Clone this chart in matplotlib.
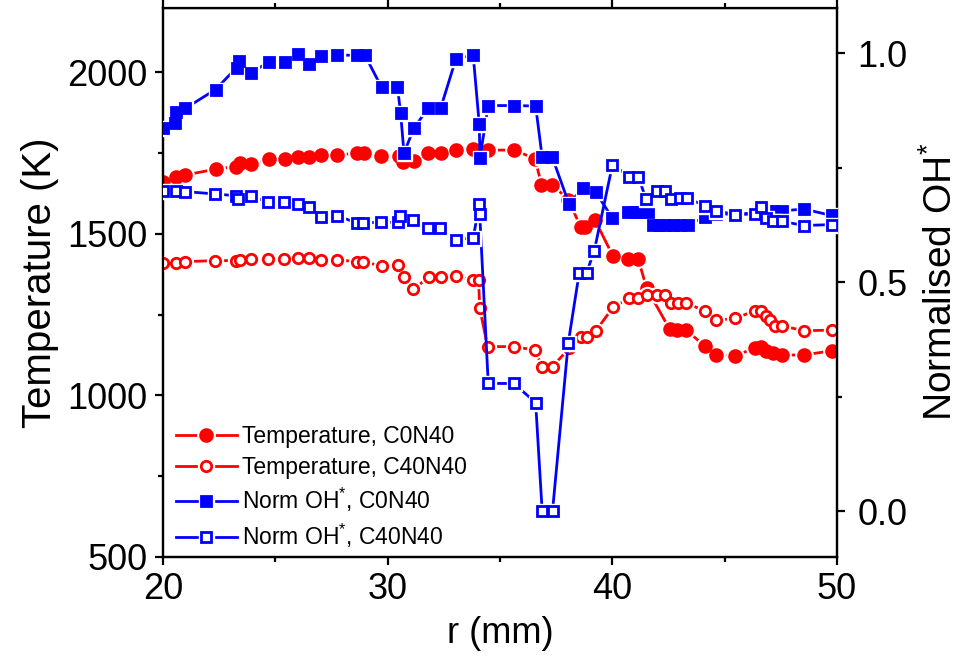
"""Perfiles radiales de temperatura y OH* normalizado para C0N40 y C40N40."""

import matplotlib

matplotlib.use("Agg")
from matplotlib import pyplot as plt  # noqa: E402
from matplotlib.ticker import MultipleLocator  # noqa: E402

plt.rcParams["font.family"] = ["Liberation Sans", "DejaVu Sans"]
plt.rcParams["mathtext.fontset"] = "custom"
plt.rcParams["mathtext.rm"] = "Liberation Sans"
plt.rcParams["mathtext.it"] = "Liberation Sans:italic"

RED = "#FF0000"
BLUE = "#0000FF"

# Temperatura, C0N40
R_T_C0 = [20.0, 20.56, 21.0, 22.34, 23.25, 23.43, 23.92, 24.72, 25.43, 25.99, 26.5,
          27.02, 27.76, 28.62, 28.95, 29.7, 30.5, 30.69, 31.17, 31.81, 32.36, 33.04,
          33.82, 34.48, 35.62, 36.56, 36.85, 37.33, 38.05, 38.6, 38.8, 39.22, 40.04,
          40.71, 41.16, 41.53, 42.56, 42.86, 43.27, 44.12, 44.64, 45.46, 46.35, 46.64,
          46.86, 47.16, 47.57, 48.53, 49.76]
T_C0 = [1661, 1675, 1682, 1700, 1708, 1718, 1715, 1731, 1730, 1737, 1739,
        1744, 1744, 1749, 1749, 1742, 1742, 1723, 1726, 1749, 1749, 1759,
        1763, 1759, 1759, 1733, 1652, 1652, 1605, 1520, 1520, 1544, 1430,
        1423, 1421, 1332, 1204, 1203, 1203, 1153, 1125, 1123, 1146, 1151,
        1138, 1130, 1125, 1125, 1138]

# Temperatura, C40N40
R_T_C40 = [20.0, 20.56, 21.0, 22.31, 23.25, 23.43, 23.92, 24.69, 25.4, 25.99, 26.51,
           27.02, 27.76, 28.62, 28.92, 29.73, 30.48, 30.73, 31.15, 31.85, 32.37, 33.04,
           33.78, 34.05, 34.1, 34.45, 35.62, 36.56, 36.88, 37.34, 38.08, 38.63, 38.86,
           39.27, 40.04, 40.76, 41.16, 41.53, 41.97, 42.34, 42.61, 42.93, 43.3, 44.12,
           44.64, 45.46, 46.35, 46.64, 46.86, 47.01, 47.24, 47.57, 48.53, 49.76]
T_C40 = [1409, 1409, 1414, 1417, 1417, 1419, 1421, 1422, 1422, 1424, 1424,
         1419, 1419, 1414, 1414, 1400, 1403, 1365, 1328, 1367, 1367, 1369,
         1357, 1357, 1270, 1151, 1151, 1140, 1089, 1089, 1146, 1182, 1182,
         1200, 1273, 1300, 1300, 1311, 1311, 1311, 1285, 1286, 1286, 1261,
         1233, 1238, 1262, 1262, 1246, 1233, 1215, 1215, 1200, 1202]

# OH* normalizado, C0N40
R_OH_C0 = [20.0, 20.52, 20.6, 21.0, 22.34, 23.28, 23.38, 23.92, 24.72, 25.43, 26.02,
           26.51, 27.02, 27.76, 28.62, 28.99, 29.73, 30.44, 30.58, 30.73, 31.17, 31.81,
           32.36, 33.04, 33.81, 34.08, 34.11, 34.48, 35.63, 36.59, 36.88, 37.33, 38.07,
           38.71, 39.26, 40.01, 40.7, 41.0, 41.3, 41.6, 41.8, 42.1, 42.4, 42.7, 43.0,
           43.35, 44.12, 44.64, 45.46, 46.35, 46.64, 46.86, 47.16, 47.57, 48.53, 49.76]
OH_C0 = [0.837, 0.848, 0.873, 0.880, 0.921, 0.969, 0.983, 0.958, 0.981, 0.981, 0.999,
         0.977, 0.994, 0.996, 0.996, 0.996, 0.926, 0.926, 0.869, 0.782, 0.837, 0.880,
         0.880, 0.988, 0.996, 0.845, 0.772, 0.886, 0.886, 0.885, 0.773, 0.773, 0.672,
         0.706, 0.697, 0.640, 0.653, 0.653, 0.653, 0.653, 0.626, 0.626, 0.626, 0.626, 0.626,
         0.626, 0.642, 0.650, 0.648, 0.652, 0.655, 0.655, 0.656, 0.656, 0.660, 0.646]

# OH* normalizado, C40N40
R_OH_C40 = [20.0, 20.56, 21.0, 22.31, 23.25, 23.35, 23.92, 24.69, 25.4, 25.99, 26.51,
            27.02, 27.76, 28.62, 28.92, 29.69, 30.48, 30.55, 31.14, 31.81, 32.33, 33.04,
            33.81, 34.08, 34.1, 34.48, 35.62, 36.59, 36.88, 37.34, 38.04, 38.53, 38.86,
            39.2, 40.01, 40.76, 41.16, 41.5, 41.97, 42.34, 42.61, 43.01, 43.34, 44.12,
            44.64, 45.46, 46.35, 46.64, 46.86, 47.16, 47.57, 48.53, 49.76]
OH_C40 = [0.700, 0.700, 0.698, 0.693, 0.689, 0.682, 0.688, 0.675, 0.675, 0.671, 0.664,
          0.643, 0.645, 0.630, 0.630, 0.631, 0.631, 0.645, 0.635, 0.619, 0.619, 0.593,
          0.597, 0.670, 0.649, 0.279, 0.279, 0.237, 0.0, 0.0, 0.367, 0.521, 0.521,
          0.569, 0.757, 0.731, 0.731, 0.682, 0.699, 0.699, 0.682, 0.684, 0.684, 0.667,
          0.656, 0.648, 0.649, 0.664, 0.640, 0.633, 0.633, 0.624, 0.626]

LABELS = [
    "Temperature, C0N40",
    "Temperature, C40N40",
    "Norm OH$^{*}$, C0N40",
    "Norm OH$^{*}$, C40N40",
]


def draw_series(axis, x, y, color, marker, filled, size, zorder):
    """Línea con hueco blanco alrededor de cada marcador (estilo Origin)."""
    line = axis.plot(x, y, color=color, linewidth=2.0, zorder=zorder)[0]
    halo = axis.plot(x, y, linestyle="none", marker=marker, markersize=size + 4.0,
                     markerfacecolor="white", markeredgecolor="white",
                     zorder=zorder + 0.1)[0]
    dots = axis.plot(x, y, linestyle="none", marker=marker, markersize=size,
                     markerfacecolor=color if filled else "white",
                     markeredgecolor=color, markeredgewidth=2.0,
                     zorder=zorder + 0.2)[0]
    return (line, halo, dots)


def style_axis(axis, pad):
    axis.tick_params(axis="both", which="major", direction="out", length=6,
                     width=1.6, labelsize=26, pad=pad)
    axis.tick_params(axis="both", which="minor", direction="out", length=3.5,
                     width=1.6)
    for spine in axis.spines.values():
        spine.set_linewidth(1.6)


figure = plt.figure(figsize=(9.58, 6.59), dpi=100)
axis_t = figure.add_axes([0.1701, 0.1548, 0.7035, 0.8337])
axis_oh = axis_t.twinx()

handles = [
    draw_series(axis_t, R_T_C0, T_C0, RED, "o", True, 8.5, 2),
    draw_series(axis_t, R_T_C40, T_C40, RED, "o", False, 7.5, 3),
    draw_series(axis_oh, R_OH_C0, OH_C0, BLUE, "s", True, 6.8, 4),
    draw_series(axis_oh, R_OH_C40, OH_C40, BLUE, "s", False, 6.8, 5),
]

axis_t.set_xlim(20, 50)
axis_t.set_ylim(500, 2200)
axis_oh.set_ylim(-0.1, 1.1)

axis_t.xaxis.set_major_locator(MultipleLocator(10))
axis_t.xaxis.set_minor_locator(MultipleLocator(5))
axis_t.yaxis.set_major_locator(MultipleLocator(500))
axis_t.yaxis.set_minor_locator(MultipleLocator(250))
axis_oh.yaxis.set_major_locator(MultipleLocator(0.5))
axis_oh.yaxis.set_minor_locator(MultipleLocator(0.25))
axis_oh.yaxis.set_major_formatter(lambda v, _: f"{v:.1f}")

style_axis(axis_t, 5)
style_axis(axis_oh, 9)
axis_t.tick_params(axis="x", top=True, which="both")
axis_t.spines["top"].set_linewidth(1.0)

axis_t.set_xlabel("r (mm)", fontsize=26, labelpad=6)
axis_t.set_ylabel("Temperature (K)", fontsize=29, labelpad=6)
axis_oh.set_ylabel("Normalised OH$^{*}$", fontsize=28, labelpad=10)

axis_oh.legend(
    handles,
    LABELS,
    loc="lower left",
    bbox_to_anchor=(0.0, -0.01),
    frameon=False,
    fontsize=16.5,
    handlelength=2.7,
    handletextpad=0.2,
    labelspacing=0.32,
    borderaxespad=0.15,
)

figure.savefig("out.png", dpi=100, facecolor="white")
plt.close(figure)
